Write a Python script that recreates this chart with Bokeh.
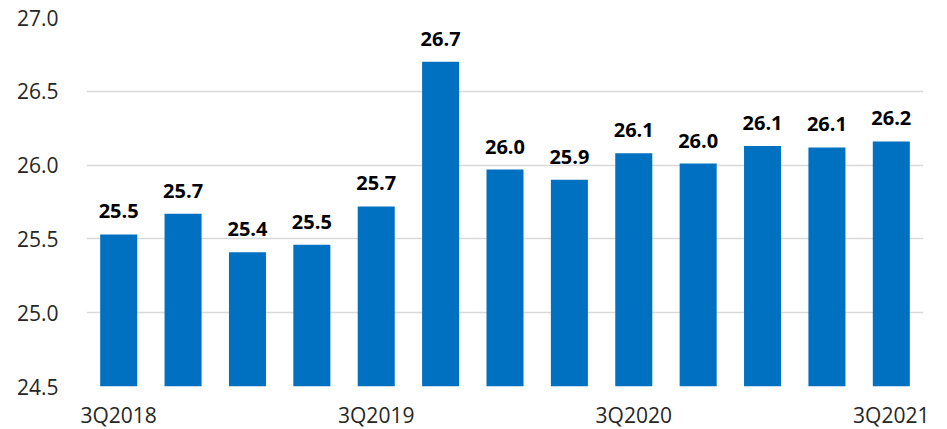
from bokeh.plotting import figure
from bokeh.models import ColumnDataSource, Range1d, FixedTicker, LabelSet, NumeralTickFormatter
from bokeh.core.properties import value
from bokeh.embed import file_html
from bokeh.resources import INLINE

quarters = ["3Q2018", "4Q2018", "1Q2019", "2Q2019", "3Q2019", "4Q2019", "1Q2020",
            "2Q2020", "3Q2020", "4Q2020", "1Q2021", "2Q2021", "3Q2021"]
values = [25.53, 25.67, 25.41, 25.46, 25.72, 26.70, 25.97, 25.90, 26.08, 26.01, 26.13, 26.12, 26.16]
shown_ticks = ["3Q2018", "3Q2019", "3Q2020", "3Q2021"]
y_ticks = [24.5, 25.0, 25.5, 26.0, 26.5, 27.0]

FONT = "Open Sans"
idx = list(range(len(quarters)))
labels = [f"{v:.1f}" for v in values]
src = ColumnDataSource(dict(x=idx, top=values, label=labels))

p = figure(frame_width=837, frame_height=369, output_backend="svg", toolbar_location=None,
           x_range=Range1d(-0.5, len(quarters) - 0.5),
           y_range=Range1d(y_ticks[0], y_ticks[-1]),
           min_border_left=86, min_border_right=12, min_border_top=17, min_border_bottom=40)
p.outline_line_color = None
p.background_fill_color = "white"

p.vbar(x="x", top="top", bottom=y_ticks[0], width=0.575, source=src,
       fill_color="#0070C0", line_color=None)

p.add_layout(LabelSet(x="x", y="top", text="label", source=src, y_offset=16,
                      text_align="center", text_baseline="bottom",
                      text_font=value(FONT), text_font_size=value("20px"),
                      text_font_style=value("bold"), text_color=value("#000000")))

p.xgrid.grid_line_color = None
p.ygrid.grid_line_color = "#D9D9D9"
p.ygrid.grid_line_width = 1.5

p.yaxis.ticker = FixedTicker(ticks=y_ticks)
p.yaxis.formatter = NumeralTickFormatter(format="0.0")
tick_pos = [quarters.index(q) for q in shown_ticks]
p.xaxis.ticker = FixedTicker(ticks=tick_pos)
p.xaxis.major_label_overrides = {i: quarters[i] for i in tick_pos}

for ax in (p.xaxis, p.yaxis):
    ax.axis_line_color = None
    ax.major_tick_line_color = None
    ax.minor_tick_line_color = None
    ax.major_label_text_font = FONT
    ax.major_label_text_font_size = "21px"
    ax.major_label_text_color = "#262626"
p.yaxis.major_label_standoff = 22
p.xaxis.major_label_standoff = 8

open("out.html", "w").write(file_html(p, INLINE))
